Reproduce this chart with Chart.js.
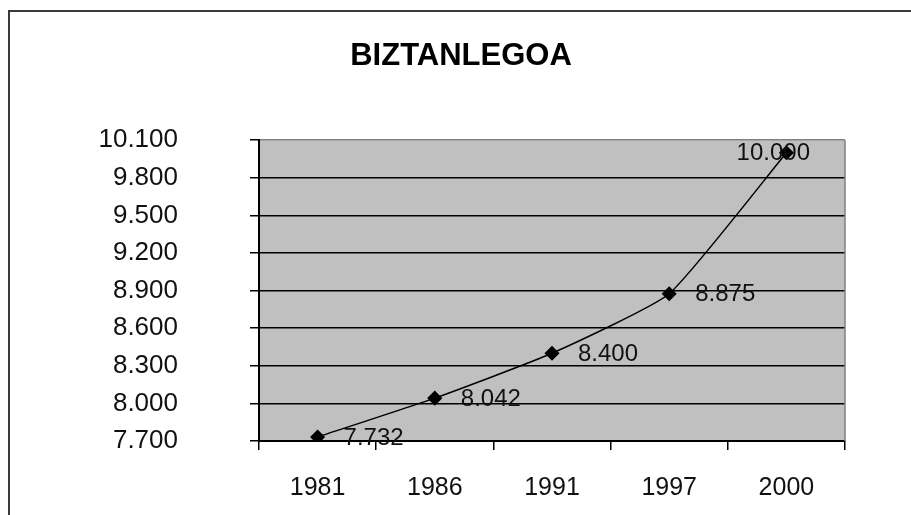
<!DOCTYPE html>
<html>
<head>
<meta charset="utf-8">
<script src="https://cdn.jsdelivr.net/npm/chart.js@4/dist/chart.umd.min.js"></script>
<style>
  html, body { margin: 0; padding: 0; background: #fff; }
  #wrap { position: relative; width: 911px; height: 515px; overflow: hidden; }
  #frame { position: absolute; left: 8px; top: 10px; width: 1000px; height: 600px;
           border-left: 2px solid #3a3a3a; border-top: 2px solid #3a3a3a; }
  canvas { position: absolute; left: 0; top: 0; }
</style>
</head>
<body>
<div id="wrap">
  <div id="frame"></div>
  <canvas id="chart" width="911" height="515"></canvas>
</div>
<script>
// datuak
const years = ["1981", "1986", "1991", "1997", "2000"];
const population = [7732, 8042, 8400, 8875, 10000];
const yMin = 7700, yMax = 10100, yStep = 300;

const FONT = '"Liberation Sans", Arial, sans-serif';

// 7732 -> "7.732"
function fmt(v) {
    return String(Math.round(v)).replace(/\B(?=(\d{3})+(?!\d))/g, ".");
}

// plot area grey background + right border
const plotBg = {
    id: "plotBg",
    beforeDraw(chart) {
        const a = chart.chartArea, ctx = chart.ctx;
        ctx.save();
        ctx.fillStyle = "#c0c0c0";
        ctx.fillRect(a.left, a.top, a.right - a.left, a.bottom - a.top);
        ctx.restore();
    },
    afterDraw(chart) {
        const a = chart.chartArea, ctx = chart.ctx;
        ctx.save();
        ctx.strokeStyle = "#808080";
        ctx.lineWidth = 1.5;
        ctx.beginPath();
        ctx.moveTo(a.right, a.top);
        ctx.lineTo(a.right, a.bottom);
        ctx.stroke();
        ctx.restore();
    }
};

// value labels to the right of each point
const valueLabels = {
    id: "valueLabels",
    afterDatasetsDraw(chart) {
        const ctx = chart.ctx, a = chart.chartArea;
        const meta = chart.getDatasetMeta(0);
        ctx.save();
        ctx.font = "24px " + FONT;
        ctx.fillStyle = "#111";
        ctx.textAlign = "left";
        ctx.textBaseline = "middle";
        meta.data.forEach((p, i) => {
            const txt = fmt(chart.data.datasets[0].data[i]);
            const w = ctx.measureText(txt).width;
            let x = p.x + 26;
            if (x + w > a.right - 35) x = a.right - 35 - w;
            ctx.fillText(txt, x, p.y + 1);
        });
        ctx.restore();
    }
};

new Chart(document.getElementById("chart"), {
    type: "line",
    data: {
        labels: years,
        datasets: [{
            data: population,
            borderColor: "#000",
            borderWidth: 1.5,
            tension: 0.15,
            pointStyle: "rectRot",
            pointRadius: 6.5,
            pointBackgroundColor: "#000",
            pointBorderColor: "#000"
        }]
    },
    options: {
        responsive: false,
        animation: false,
        layout: { padding: { left: 77, right: 66, top: 0, bottom: 0 } },
        plugins: {
            legend: { display: false },
            tooltip: { enabled: false },
            title: {
                display: true,
                text: "BIZTANLEGOA",
                color: "#000",
                font: { family: FONT, size: 31, weight: "bold", lineHeight: 1.2 },
                padding: { top: 38, bottom: 65 }
            }
        },
        scales: {
            x: {
                offset: true,
                grid: {
                    offset: true,
                    drawOnChartArea: false,
                    drawTicks: true,
                    tickLength: 9,
                    color: "#000",
                    lineWidth: 1.5
                },
                border: { display: true, color: "#000", width: 2 },
                ticks: {
                    color: "#111",
                    padding: 23,
                    maxRotation: 0,
                    font: { family: FONT, size: 25 }
                },
                afterFit(scale) { scale.height = 74; }
            },
            y: {
                min: yMin,
                max: yMax,
                grid: {
                    color: c => (c.tick && c.tick.value === yMax) ? "#808080" : "#000",
                    lineWidth: 1.5,
                    tickLength: 9,
                    tickColor: "#000"
                },
                border: { display: true, color: "#000", width: 2 },
                ticks: {
                    stepSize: yStep,
                    color: "#111",
                    padding: 72,
                    font: { family: FONT, size: 26 },
                    callback: v => fmt(v)
                },
                afterFit(scale) {
                    scale.width = 182;
                    // the big label gap must not push the plot area in vertically
                    scale.paddingTop = 16;
                    scale.paddingBottom = 16;
                }
            }
        }
    },
    plugins: [plotBg, valueLabels]
});
</script>
</body>
</html>
